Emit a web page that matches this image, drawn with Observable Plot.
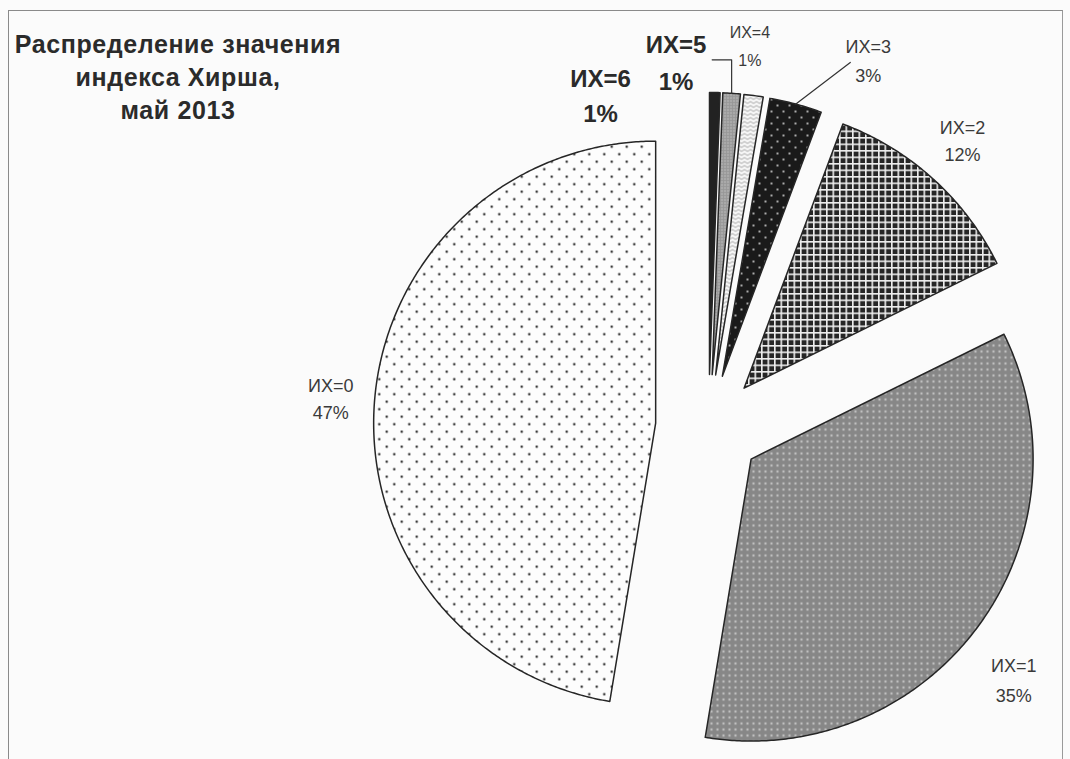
<!DOCTYPE html>
<html><head><meta charset="utf-8">
<script src="https://cdn.jsdelivr.net/npm/d3@7"></script>
<script src="https://cdn.jsdelivr.net/npm/@observablehq/plot@0.6"></script>
<style>
html,body{margin:0;padding:0;background:#fbfbfb;}
#wrap{position:relative;width:1070px;height:759px;background:#fbfbfb;overflow:hidden;font-family:"Liberation Sans",Arial,sans-serif;}
#border{position:absolute;left:8px;top:10px;width:1053px;height:760px;border-left:1.5px solid #8a8a8a;border-top:1.5px solid #8a8a8a;border-right:1.5px solid #9a9a9a;}
#chart{position:absolute;left:0;top:0;}
#title{position:absolute;left:8px;top:28px;width:340px;text-align:center;font-weight:bold;font-size:25px;letter-spacing:0.6px;line-height:33px;color:#2b2b2b;}
</style></head>
<body><div id="wrap"><div id="border"></div><div id="chart"></div>
<div id="title">Распределение значения<br>индекса Хирша,<br>май 2013</div></div>
<script>
// ---- data (clockwise from 12 o'clock) ----
const categories = ["ИХ=6", "ИХ=5", "ИХ=4", "ИХ=3", "ИХ=2", "ИХ=1", "ИХ=0"];
const shares = [0.6, 1.0, 1.1, 3.0, 12.0, 34.9, 47.4];
const percentLabels = ["1%", "1%", "1%", "3%", "12%", "35%", "47%"];

// ---- layout / style (not data) ----
const patternIds = ["p6", "p5", "p4", "p3", "p2", "p1", "p0"];
const explode = 0.188;
const labelRadius = [1.244, 1.309, 1.372, 1.426, 1.364, 1.40, 1.344];
const labelNudgeDeg = [-19, -9, -1.6, 8.3, -0.8, 2.8, 0];
const labelSize = [24, 24, 16, 18, 18, 18, 18];
const labelBold = [true, true, false, false, false, false, false];
const labelLineHeight = [1.45, 1.55, 1.8, 1.6, 1.5, 1.65, 1.5];

const total = d3.sum(shares);
let acc = 0;
const slices = shares.map((v, i) => {
  const a0 = acc / total * 2 * Math.PI; acc += v;
  const a1 = acc / total * 2 * Math.PI;
  const mid = (a0 + a1) / 2;
  return {i, cat: categories[i], v, a0, a1, mid,
          ox: explode * Math.sin(mid), oy: explode * Math.cos(mid)};
});

function slicePoly(s) {
  const rows = [{x: s.ox, y: s.oy}];
  const n = Math.max(3, Math.ceil((s.a1 - s.a0) / (Math.PI / 360)));
  for (let k = 0; k <= n; k++) {
    const a = s.a0 + (s.a1 - s.a0) * k / n;
    rows.push({x: s.ox + Math.sin(a), y: s.oy + Math.cos(a)});
  }
  return rows;
}

const labels = slices.map(s => {
  const a = s.mid + labelNudgeDeg[s.i] * Math.PI / 180;
  const r = labelRadius[s.i];
  return {text: s.cat + "\n" + percentLabels[s.i], x: r * Math.sin(a), y: r * Math.cos(a), i: s.i};
});

function outerMid(s) { return {x: s.ox + Math.sin(s.mid), y: s.oy + Math.cos(s.mid)}; }
const s3 = slices[3], l3 = labels[3];
const leader3 = [outerMid(s3), {x: l3.x - 0.064, y: l3.y - 0.014}];
const s5 = slices[1], l5 = labels[1];
const om5 = outerMid(s5);
const leader5 = [om5, {x: om5.x, y: l5.y}, {x: l5.x + 0.128, y: l5.y}];

const marks = [];
for (const s of slices) {
  marks.push(Plot.line(slicePoly(s), {x: "x", y: "y", curve: "linear-closed",
    fill: `url(#${patternIds[s.i]})`, stroke: "#262626", strokeWidth: 1.5, strokeLinejoin: "round"}));
}
marks.push(Plot.line(leader3, {x: "x", y: "y", stroke: "#333", strokeWidth: 1.2}));
marks.push(Plot.line(leader5, {x: "x", y: "y", stroke: "#333", strokeWidth: 1.2}));
for (const l of labels) {
  marks.push(Plot.text([l], {x: "x", y: "y", text: "text", fontSize: labelSize[l.i],
    lineHeight: labelLineHeight[l.i], fontWeight: labelBold[l.i] ? "bold" : "normal",
    fill: labelBold[l.i] ? "#2a2a2a" : "#3a3a3a", fontFamily: "Liberation Sans, Arial, sans-serif"}));
}

const svg = Plot.plot({
  width: 1070, height: 759,
  marginLeft: 426, marginRight: 80, marginTop: 145, marginBottom: 50,
  x: {domain: [-1, 1], axis: null},
  y: {domain: [-1, 1], axis: null},
  style: {background: "none", overflow: "visible"},
  marks
});

// patterns
const defs = d3.select(svg).insert("defs", ":first-child");
function pat(id, w, h) {
  return defs.append("pattern").attr("id", id).attr("patternUnits", "userSpaceOnUse")
    .attr("width", w).attr("height", h);
}
let p = pat("p0", 15, 15);
p.append("rect").attr("width", 15).attr("height", 15).attr("fill", "#fdfdfd");
p.append("circle").attr("cx", 3.75).attr("cy", 3.75).attr("r", 1.15).attr("fill", "#111");
p.append("circle").attr("cx", 11.25).attr("cy", 11.25).attr("r", 1.15).attr("fill", "#111");

p = pat("p1", 6, 6);
p.append("rect").attr("width", 6).attr("height", 6).attr("fill", "#878787");
p.append("circle").attr("cx", 3).attr("cy", 3).attr("r", 1.2).attr("fill", "#c2c2c2");

p = pat("p2", 6.5, 6.5);
p.append("rect").attr("width", 6.5).attr("height", 6.5).attr("fill", "#262626");
p.append("rect").attr("x", 0).attr("y", 0).attr("width", 6.5).attr("height", 1.6).attr("fill", "#eeeeee");
p.append("rect").attr("x", 0).attr("y", 0).attr("width", 1.6).attr("height", 6.5).attr("fill", "#eeeeee");

p = pat("p3", 12, 12);
p.append("rect").attr("width", 12).attr("height", 12).attr("fill", "#1a1a1a");
p.append("circle").attr("cx", 3).attr("cy", 3).attr("r", 1).attr("fill", "#dcdcdc");
p.append("circle").attr("cx", 9).attr("cy", 9).attr("r", 1).attr("fill", "#dcdcdc");

p = pat("p4", 6, 4);
p.append("rect").attr("width", 6).attr("height", 4).attr("fill", "#f8f8f8");
p.append("path").attr("d", "M0,1 L3,3 L6,1").attr("fill", "none").attr("stroke", "#9a9a9a").attr("stroke-width", 0.9);

p = pat("p5", 3, 3);
p.append("rect").attr("width", 3).attr("height", 3).attr("fill", "#979797");
p.append("circle").attr("cx", 1.5).attr("cy", 1.5).attr("r", 0.7).attr("fill", "#d2d2d2");

p = pat("p6", 4, 4);
p.append("rect").attr("width", 4).attr("height", 4).attr("fill", "#222");

document.getElementById("chart").appendChild(svg);
</script>
</body></html>
